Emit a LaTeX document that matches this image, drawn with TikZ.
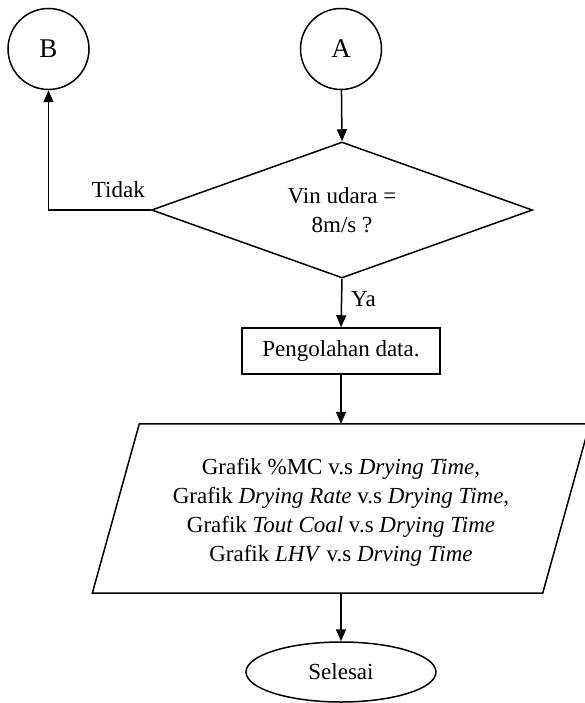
\documentclass[tikz,border=0pt]{standalone}
\usepackage{fontspec}
\setmainfont{Liberation Serif}
\usetikzlibrary{shapes.geometric,arrows.meta}

\tikzset{
  base/.style={draw=black, line width=1.5pt, inner sep=0pt, font=\fontsize{23}{29}\selectfont},
  connector/.style={circle, base, minimum size=81pt, font=\fontsize{27}{30}\selectfont},
  decision/.style={diamond, base, aspect=2.8, minimum width=381pt, minimum height=136pt, align=center},
  process/.style={rectangle, base, minimum width=198pt, minimum height=46pt},
  terminal/.style={ellipse, base, minimum width=190pt, minimum height=60pt},
  flow/.style={line width=1.5pt, -{Triangle[length=12pt,width=10pt]}},
  lbl/.style={font=\fontsize{23}{29}\selectfont, inner sep=0pt}
}

\begin{document}
\begin{tikzpicture}[x=1pt,y=-1pt]
  \useasboundingbox (0,0) rectangle (585,703);
  \clip (0,0) rectangle (585,703);

  % connectors
  \node[connector] (B) at (48.5,49) {B};
  \node[connector] (A) at (341,49) {A};

  % decision
  \node[decision] (dec) at (342,210) {Vin udara =\\ 8m/s ?};

  % processing step
  \node[process] (proc) at (341,351) {Pengolahan data.};

  % output (parallelogram)
  \node[minimum width=450pt, minimum height=169pt, inner sep=0pt] (io) at (341,508.5) {};
  \draw[line width=1.5pt]
    ([xshift=23.5pt]io.north west) -- ([xshift=23.5pt]io.north east) --
    ([xshift=-23.5pt]io.south east) -- ([xshift=-23.5pt]io.south west) -- cycle;
  \node[lbl, align=center] (iotext) at (341,512.5)
    {Grafik \%MC v.s \textit{Drying Time},\\
     Grafik \textit{Drying Rate} v.s \textit{Drying Time},\\
     Grafik \textit{Tout Coal} v.s \textit{Drying Time}\\
     Grafik \textit{LHV} v.s \textit{Drving Time}};

  % end
  \node[terminal] (end) at (341,672) {Selesai};

  % flow lines
  \draw[flow] (A) -- (dec.north);
  \draw[flow] (dec.west) -| (B.south);
  \draw[flow] (dec.south) -- (proc.north);
  \draw[flow] (proc.south) -- (io.north);
  \draw[flow] (io.south) -- (end.north);

  % branch labels
  \node[lbl, anchor=east] (tidak) at (145,190) {Tidak};
  \node[lbl, anchor=west] (ya) at (351,299) {Ya};
\end{tikzpicture}
\end{document}
